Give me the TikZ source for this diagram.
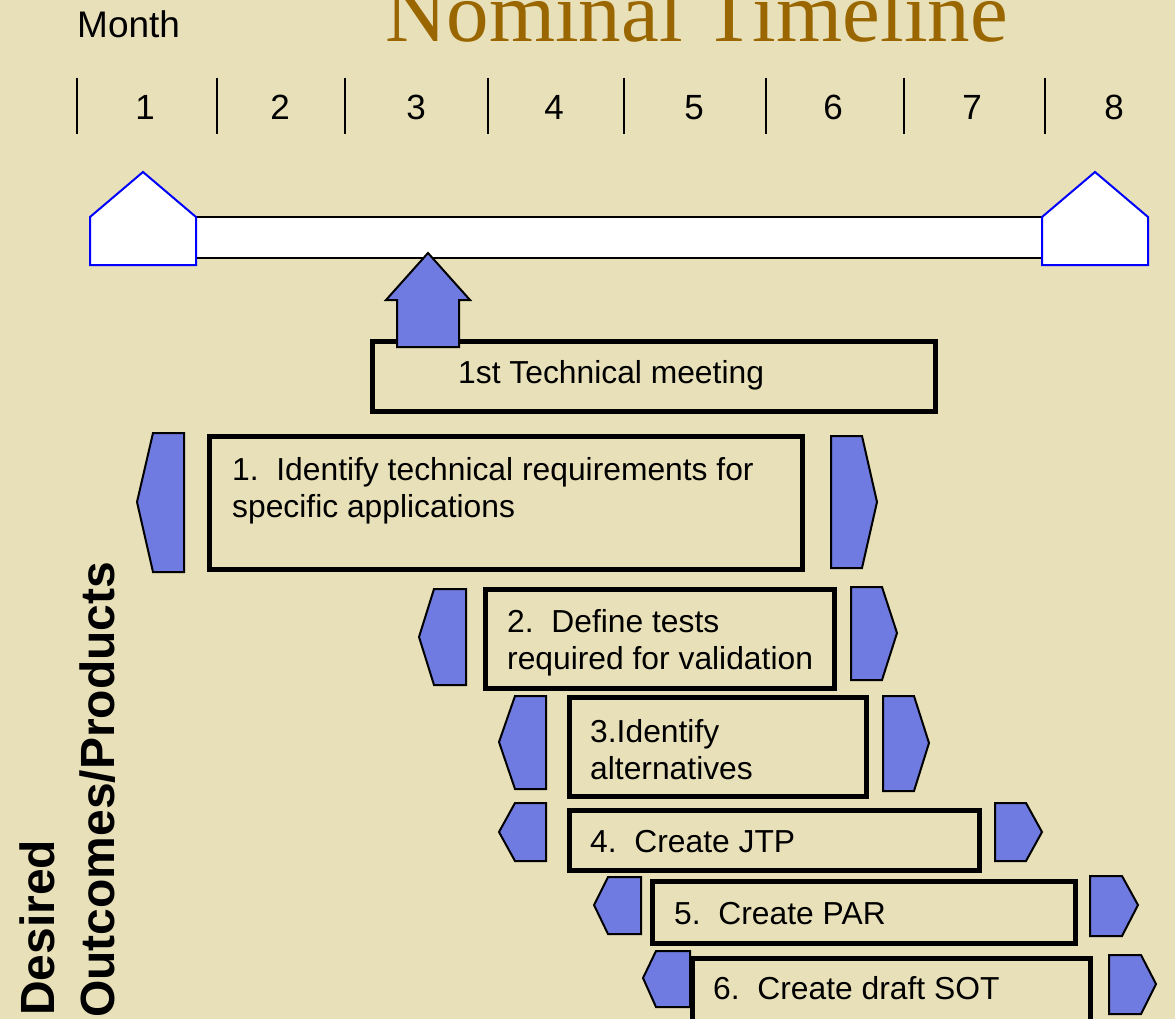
\documentclass[tikz,border=0pt]{standalone}
\usepackage{fontspec}
\setmainfont{Liberation Sans}
\newfontfamily\titlefont{Liberation Serif}
\definecolor{bgcol}{RGB}{232,224,184}
\definecolor{chevfill}{RGB}{111,123,224}
\definecolor{titlecol}{RGB}{153,102,0}
\definecolor{pentblue}{RGB}{0,0,255}
\tikzset{
  taskbox/.style={draw=black, line width=5pt},
  chev/.style={draw=black, fill=chevfill, line width=2pt, line join=miter},
  pent/.style={draw=pentblue, fill=white, line width=2pt},
  tick/.style={draw=black, line width=2.5pt},
  lbl/.style={inner sep=0pt, anchor=base west, font=\fontsize{31.8}{37}\selectfont},
  num/.style={inner sep=0pt, anchor=base, font=\fontsize{35}{40}\selectfont},
  side/.style={inner sep=0pt, anchor=base west, rotate=90, font=\bfseries\fontsize{48}{52}\selectfont},
}
\begin{document}
\begin{tikzpicture}[x=1pt,y=-1pt]
\useasboundingbox (0,0) rectangle (1175,1019);
\fill[bgcol] (0,0) rectangle (1175,1019);
\begin{scope}
\clip (0,0) rectangle (1175,1019);

% title and month header
\node[inner sep=0pt, anchor=base west, text=titlecol, font=\titlefont\fontsize{85}{90}\selectfont] (title) at (385,42) {Nominal Timeline};
\node[inner sep=0pt, anchor=base west, font=\fontsize{37}{40}\selectfont] (month) at (77,38) {Month};

% ticks
\foreach \x [count=\i] in {77,217,345,488,624,766,904,1045}
  \draw[tick] (\x,78) -- (\x,134);
% numbers
\foreach \x [count=\i] in {145,280,416,554,694,833,972,1114}
  \node[num] (m\i) at (\x,120) {\i};

% timeline bar
\draw[fill=white, draw=none] (196,217) rectangle (1042,258);
\draw[black, line width=1.5pt] (196,217) -- (1042,217);
\draw[black, line width=1.5pt] (196,258) -- (1042,258);
\draw[pent] (90,265) -- (90,217) -- (143,172) -- (196,217) -- (196,265) -- cycle;
\draw[pent] (1042,265) -- (1042,217) -- (1095,172) -- (1148,217) -- (1148,265) -- cycle;

% 1st technical meeting
\draw[taskbox] (372.5,341.5) rectangle (935.5,411.5);
\node[lbl] (meet) at (458,383) {1st Technical meeting};
\draw[chev] (397,347) -- (397,300) -- (386,300) -- (428,253) -- (470,300) -- (459,300) -- (459,347) -- cycle;

% task 1
\draw[taskbox] (209.5,436.5) rectangle (802.5,569.5);
\node[lbl] (t1a) at (232,480) {1.\ \ Identify technical requirements for};
\node[lbl] (t1b) at (232,517) {specific applications};
\draw[chev] (153,433) -- (184,433) -- (184,572) -- (153,572) -- (137,502) -- cycle;
\draw[chev] (831,436) -- (862,436) -- (877,502) -- (862,568) -- (831,568) -- cycle;

% task 2
\draw[taskbox] (485.5,589.5) rectangle (834.5,688.5);
\node[lbl] (t2a) at (507,632) {2.\ \ Define tests};
\node[lbl] (t2b) at (507,669) {required for validation};
\draw[chev] (434,589) -- (466,589) -- (466,685) -- (434,685) -- (419,637) -- cycle;
\draw[chev] (851,587) -- (882,587) -- (897,633) -- (882,680) -- (851,680) -- cycle;

% task 3
\draw[taskbox] (569.5,697.5) rectangle (866.5,796.5);
\node[lbl] (t3a) at (590,742) {3.Identify};
\node[lbl] (t3b) at (590,779) {alternatives};
\draw[chev] (515,696) -- (546,696) -- (546,789) -- (515,789) -- (499,742) -- cycle;
\draw[chev] (883,696) -- (914,696) -- (929,743) -- (914,791) -- (883,791) -- cycle;

% task 4
\draw[taskbox] (569.5,810.5) rectangle (979.5,870.5);
\node[lbl] (t4) at (590,852) {4.\ \ Create JTP};
\draw[chev] (515,803) -- (546,803) -- (546,861) -- (515,861) -- (499,832) -- cycle;
\draw[chev] (995,803) -- (1026,803) -- (1042,832) -- (1026,861) -- (995,861) -- cycle;

% task 5
\draw[taskbox] (652.5,881.5) rectangle (1075.5,943.5);
\node[lbl] (t5) at (674,924) {5.\ \ Create PAR};
\draw[chev] (608,877) -- (641,877) -- (641,934) -- (608,934) -- (594,905) -- cycle;
\draw[chev] (1090,876) -- (1122,876) -- (1138,905) -- (1122,936) -- (1090,936) -- cycle;

% task 6
\draw[chev] (656,951) -- (690,951) -- (690,1007) -- (656,1007) -- (643,978) -- cycle;
\draw[chev] (1109,955) -- (1141,955) -- (1156,984) -- (1141,1014) -- (1109,1014) -- cycle;
\draw[taskbox] (692.5,958.5) rectangle (1090.5,1030);
\node[lbl] (t6) at (713,999) {6.\ \ Create draft SOT};

% side label
\node[side] (side1) at (54,1016) {Desired};
\node[side] (side2) at (114,1018) {Outcomes/Products};
\end{scope}
\end{tikzpicture}
\end{document}
